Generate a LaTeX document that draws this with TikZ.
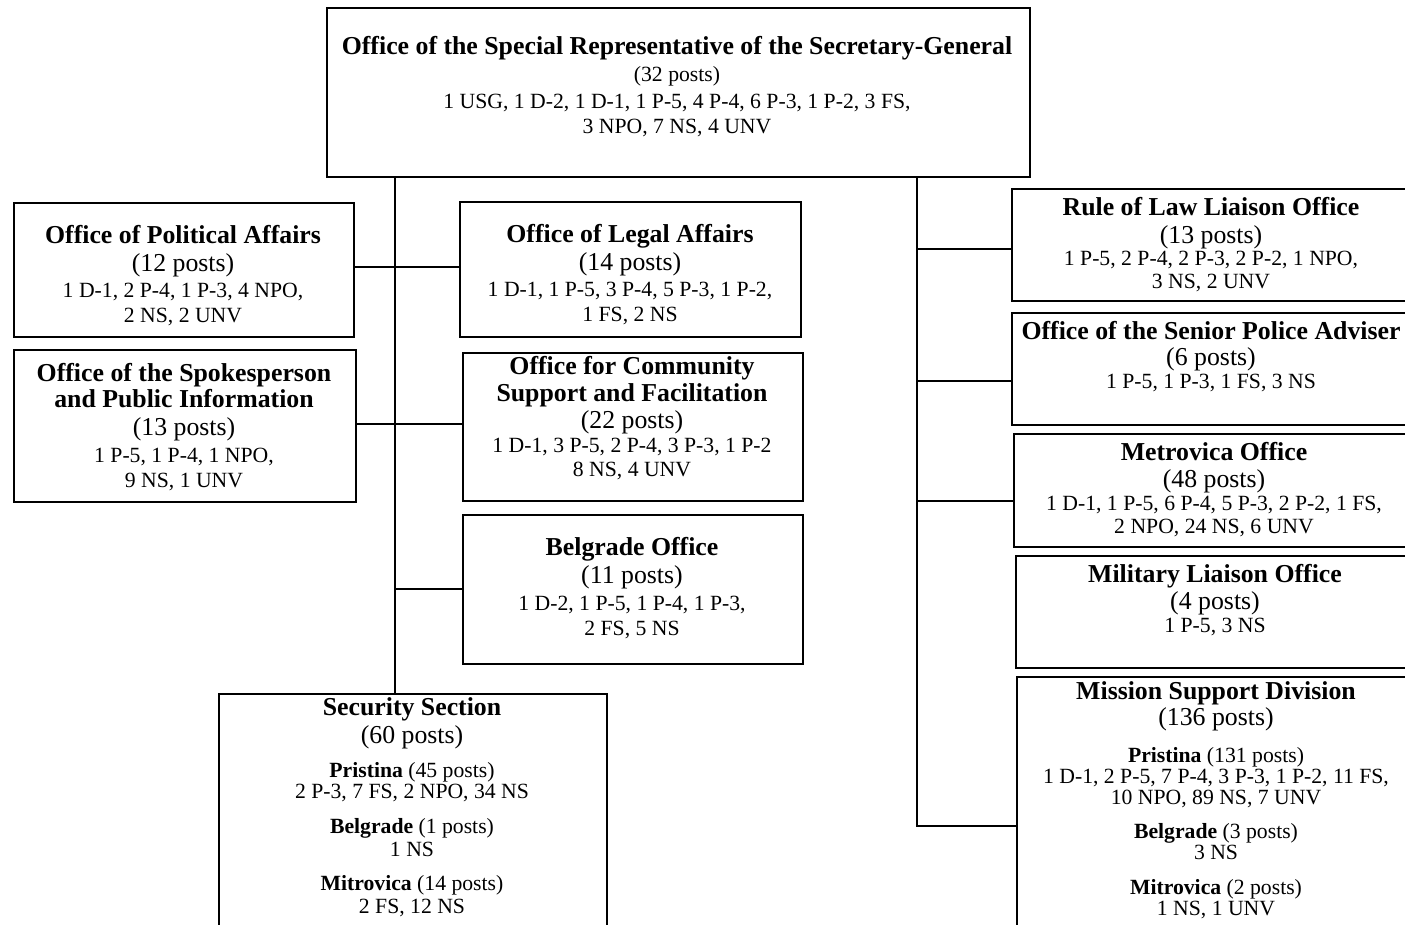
\documentclass[tikz,border=0pt]{standalone}
\usepackage{fontspec}
\setmainfont{Liberation Serif}
\begin{document}
\begin{tikzpicture}[x=1pt,y=-1pt,
  box/.style={draw, line width=1.8pt, fill=white, inner sep=0pt, anchor=north west},
  bigb/.style={font=\fontsize{25.8}{30}\selectfont\bfseries, anchor=base, inner sep=0pt},
  big/.style={font=\fontsize{25.8}{30}\selectfont, anchor=base, inner sep=0pt},
  sm/.style={font=\fontsize{21.7}{26}\selectfont, anchor=base, inner sep=0pt},
  link/.style={line width=1.8pt}]
\useasboundingbox (0,0) rectangle (1405,924);
\clip (0,0) rectangle (1405,924);
\fill[white] (0,0) rectangle (1405,924);

% boxes
\node[box, minimum width=703pt, minimum height=169pt] (top) at (326,7) {};
\node[box, minimum width=340pt, minimum height=134pt] (pol) at (13,202) {};
\node[box, minimum width=341pt, minimum height=135pt] (leg) at (459,201) {};
\node[box, minimum width=342pt, minimum height=152pt] (spk) at (13,349) {};
\node[box, minimum width=340pt, minimum height=148pt] (com) at (462,352) {};
\node[box, minimum width=340pt, minimum height=149pt] (bel) at (462,514) {};
\node[box, minimum width=388pt, minimum height=260pt] (sec) at (218,693) {};
\node[box, minimum width=400pt, minimum height=112pt] (rol) at (1011,188) {};
\node[box, minimum width=400pt, minimum height=112pt] (pap) at (1011,312) {};
\node[box, minimum width=400pt, minimum height=113pt] (met) at (1013,433) {};
\node[box, minimum width=400pt, minimum height=112pt] (mil) at (1015,555) {};
\node[box, minimum width=400pt, minimum height=260pt] (msd) at (1016,676) {};

% connector coordinates
\coordinate (lt) at (395,0);
\coordinate (rt) at (917,0);
\coordinate (l1) at (395,267);
\coordinate (l2) at (395,424);
\coordinate (l3) at (395,589);
\coordinate (r1) at (917,249);
\coordinate (r2) at (917,381);
\coordinate (r3) at (917,501);
\coordinate (r4) at (917,826);

% connectors
\draw[link] (top.south -| lt) -- (sec.north -| lt);
\draw[link] (l1 -| pol.east) -- (l1 -| leg.west);
\draw[link] (l2 -| spk.east) -- (l2 -| com.west);
\draw[link] (l3) -- (l3 -| bel.west);
\draw[link] (top.south -| rt) -- (r4) -- (r4 -| msd.west);
\draw[link] (r1) -- (r1 -| rol.west);
\draw[link] (r2) -- (r2 -| pap.west);
\draw[link] (r3) -- (r3 -| met.west);

% texts: top
\node[bigb] (top-1) at (677,54) {Office of the Special Representative of the Secretary-General};
\node[sm] (top-2) at (677,81) {(32 posts)};
\node[sm] (top-3) at (677,108) {1 USG, 1 D-2, 1 D-1, 1 P-5, 4 P-4, 6 P-3, 1 P-2, 3 FS,};
\node[sm] (top-4) at (677,133) {3 NPO, 7 NS, 4 UNV};

% political
\node[bigb] (pol-1) at (183,243) {Office of Political Affairs};
\node[big] (pol-2) at (183,271) {(12 posts)};
\node[sm] (pol-3) at (183,297) {1 D-1, 2 P-4, 1 P-3, 4 NPO,};
\node[sm] (pol-4) at (183,322) {2 NS, 2 UNV};

% legal
\node[bigb] (leg-1) at (630,242) {Office of Legal Affairs};
\node[big] (leg-2) at (630,270) {(14 posts)};
\node[sm] (leg-3) at (630,296) {1 D-1, 1 P-5, 3 P-4, 5 P-3, 1 P-2,};
\node[sm] (leg-4) at (630,321) {1 FS, 2 NS};

% spokesperson
\node[bigb] (spk-1) at (184,381) {Office of the Spokesperson};
\node[bigb] (spk-2) at (184,407) {and Public Information};
\node[big] (spk-3) at (184,435) {(13 posts)};
\node[sm] (spk-4) at (184,462) {1 P-5, 1 P-4, 1 NPO,};
\node[sm] (spk-5) at (184,487) {9 NS, 1 UNV};

% community
\node[bigb] (com-1) at (632,374) {Office for Community};
\node[bigb] (com-2) at (632,401) {Support and Facilitation};
\node[big] (com-3) at (632,428) {(22 posts)};
\node[sm] (com-4) at (632,452) {1 D-1, 3 P-5, 2 P-4, 3 P-3, 1 P-2};
\node[sm] (com-5) at (632,476) {8 NS, 4 UNV};

% belgrade office
\node[bigb] (bel-1) at (632,555) {Belgrade Office};
\node[big] (bel-2) at (632,583) {(11 posts)};
\node[sm] (bel-3) at (632,610) {1 D-2, 1 P-5, 1 P-4, 1 P-3,};
\node[sm] (bel-4) at (632,635) {2 FS, 5 NS};

% security
\node[bigb] (sec-1) at (412,715) {Security Section};
\node[big] (sec-2) at (412,743) {(60 posts)};
\node[sm] (sec-3) at (412,777) {\textbf{Pristina} (45 posts)};
\node[sm] (sec-4) at (412,798) {2 P-3, 7 FS, 2 NPO, 34 NS};
\node[sm] (sec-5) at (412,833) {\textbf{Belgrade} (1 posts)};
\node[sm] (sec-6) at (412,856) {1 NS};
\node[sm] (sec-7) at (412,890) {\textbf{Mitrovica} (14 posts)};
\node[sm] (sec-8) at (412,913) {2 FS, 12 NS};

% rule of law
\node[bigb] (rol-1) at (1211,215) {Rule of Law Liaison Office};
\node[big] (rol-2) at (1211,243) {(13 posts)};
\node[sm] (rol-3) at (1211,265) {1 P-5, 2 P-4, 2 P-3, 2 P-2, 1 NPO,};
\node[sm] (rol-4) at (1211,288) {3 NS, 2 UNV};

% police
\node[bigb] (pap-1) at (1211,339) {Office of the Senior Police Adviser};
\node[big] (pap-2) at (1211,365) {(6 posts)};
\node[sm] (pap-3) at (1211,388) {1 P-5, 1 P-3, 1 FS, 3 NS};

% metrovica
\node[bigb] (met-1) at (1214,460) {Metrovica Office};
\node[big] (met-2) at (1214,487) {(48 posts)};
\node[sm] (met-3) at (1214,510) {1 D-1, 1 P-5, 6 P-4, 5 P-3, 2 P-2, 1 FS,};
\node[sm] (met-4) at (1214,533) {2 NPO, 24 NS, 6 UNV};

% military
\node[bigb] (mil-1) at (1215,582) {Military Liaison Office};
\node[big] (mil-2) at (1215,609) {(4 posts)};
\node[sm] (mil-3) at (1215,632) {1 P-5, 3 NS};

% mission support
\node[bigb] (msd-1) at (1216,699) {Mission Support Division};
\node[big] (msd-2) at (1216,725) {(136 posts)};
\node[sm] (msd-3) at (1216,762) {\textbf{Pristina} (131 posts)};
\node[sm] (msd-4) at (1216,783) {1 D-1, 2 P-5, 7 P-4, 3 P-3, 1 P-2, 11 FS,};
\node[sm] (msd-5) at (1216,804) {10 NPO, 89 NS, 7 UNV};
\node[sm] (msd-6) at (1216,838) {\textbf{Belgrade} (3 posts)};
\node[sm] (msd-7) at (1216,859) {3 NS};
\node[sm] (msd-8) at (1216,894) {\textbf{Mitrovica} (2 posts)};
\node[sm] (msd-9) at (1216,915) {1 NS, 1 UNV};
\end{tikzpicture}
\end{document}
